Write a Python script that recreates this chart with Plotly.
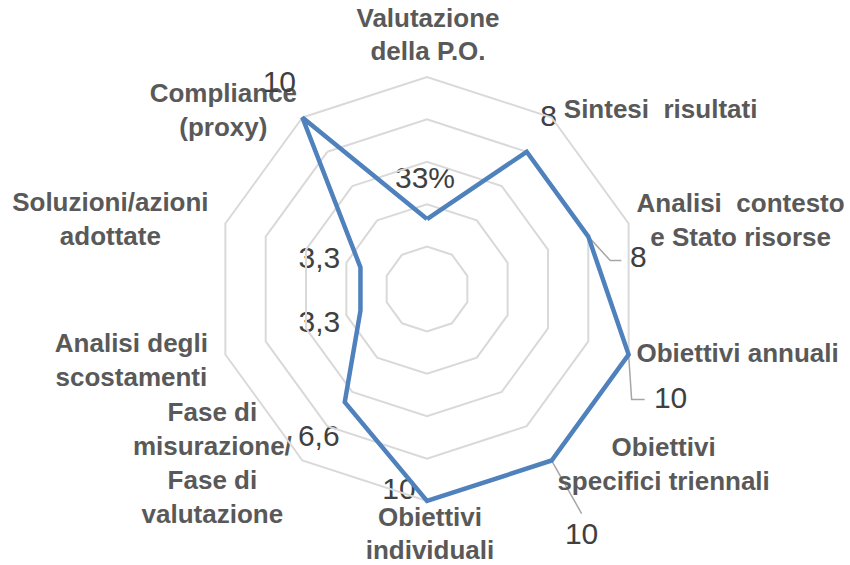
import math
import plotly.graph_objects as go

# ---- data ----
categories = [
    "Valutazione della P.O.", "Sintesi risultati", "Analisi contesto e Stato risorse",
    "Obiettivi annuali", "Obiettivi specifici triennali", "Obiettivi individuali",
    "Fase di misurazione/Fase di valutazione", "Analisi degli scostamenti",
    "Soluzioni/azioni adottate", "Compliance (proxy)",
]
tick_labels = [
    "Valutazione<br>della P.O.", "Sintesi  risultati", "Analisi  contesto<br>e Stato risorse",
    "Obiettivi annuali", "Obiettivi<br>specifici triennali", "Obiettivi<br>individuali",
    "Fase di<br>misurazione/<br>Fase di<br>valutazione", "Analisi degli<br>scostamenti",
    "Soluzioni/azioni<br>adottate", "Compliance<br>(proxy)",
]
values = [3.3, 8, 8, 10, 10, 10, 6.6, 3.3, 3.3, 10]
value_labels = ["33%", "8", "8", "10", "10", "10", "6,6", "3,3", "3,3", "10"]

# ---- style / layout ----
W, H = 850, 565
CX, CY = 427, 289          # chart centre (px)
S = 21.2                   # px per value unit
RMAX = 10
RPAD = 10.25               # radial range slightly beyond RMAX so the line is not clipped
label_offsets = [(-2, -39), (22, -33), (50, 23), (42, 46), (30, 76),
                 (-28, -10), (-26, 36), (-41, 14), (-41, -7), (-23, -33)]
leaders = {2: [(22, 24), (33, 24)], 3: [(3, 45), (16, 45)], 4: [(30, 53)]}
cat_offsets = [(1, -40), (109, -6), (112, -1), (109, 1), (112, 6),
               (3, 35), (-90, 5), (-94, 8), (-115, -2), (-79, -5)]

R_px = RPAD * S
dom_x = [(CX - R_px) / W, (CX + R_px) / W]
dom_y = [(H - CY - R_px) / H, (H - CY + R_px) / H]

n = len(categories)
angles = [i * 360 / n for i in range(n)]


def to_xy(r, ang, dx=0.0, dy=0.0):
    return (r * math.sin(math.radians(ang)) + dx / S,
            r * math.cos(math.radians(ang)) - dy / S)


fig = go.Figure()
fig.add_trace(go.Scatterpolar(
    r=values + values[:1], theta=categories + categories[:1],
    mode="lines", line=dict(color="#4F81BD", width=4.5),
    subplot="polar", showlegend=False, hoverinfo="skip"))

# leader lines (cartesian overlay in value units)
for i, pts in leaders.items():
    x0, y0 = to_xy(values[i], angles[i])
    xs, ys = [x0], [y0]
    for dx, dy in pts:
        x1, y1 = to_xy(values[i], angles[i], dx, dy)
        xs.append(x1); ys.append(y1)
    fig.add_trace(go.Scatter(
        x=xs, y=ys, mode="lines", line=dict(color="#A6A6A6", width=1.5),
        cliponaxis=False, showlegend=False, hoverinfo="skip"))

# category labels
cx_, cy_ = zip(*[to_xy(RMAX, a, dx, dy) for a, (dx, dy) in zip(angles, cat_offsets)])
fig.add_trace(go.Scatter(
    x=cx_, y=cy_, mode="text", text=tick_labels, textposition="middle center",
    textfont=dict(family="Liberation Sans", size=26, color="#595959", weight="bold"),
    cliponaxis=False, showlegend=False, hoverinfo="skip"))

# data labels
lx, ly = zip(*[to_xy(v, a, dx, dy) for v, a, (dx, dy) in zip(values, angles, label_offsets)])
fig.add_trace(go.Scatter(
    x=lx, y=ly, mode="text", text=value_labels, textposition="middle center",
    textfont=dict(family="Liberation Sans", size=30, color="#404040"),
    cliponaxis=False, showlegend=False, hoverinfo="skip"))

grid_col = "#D9D9D9"
fig.update_layout(
    width=W, height=H, margin=dict(l=0, r=0, t=0, b=0),
    paper_bgcolor="white", plot_bgcolor="rgba(0,0,0,0)",
    xaxis=dict(range=[-CX / S, (W - CX) / S], visible=False, fixedrange=True),
    yaxis=dict(range=[-(H - CY) / S, CY / S], visible=False, fixedrange=True),
    polar=dict(
        domain=dict(x=dom_x, y=dom_y), gridshape="linear", bgcolor="rgba(0,0,0,0)",
        radialaxis=dict(range=[0, RPAD], tick0=0, dtick=2, showticklabels=False, ticks="",
                        showline=False, gridcolor=grid_col, gridwidth=1.5),
        angularaxis=dict(type="category", categoryarray=categories, rotation=90,
                         direction="clockwise", showgrid=False, ticks="",
                         showline=False, showticklabels=False),
    ),
)
fig.write_html("out.html")
